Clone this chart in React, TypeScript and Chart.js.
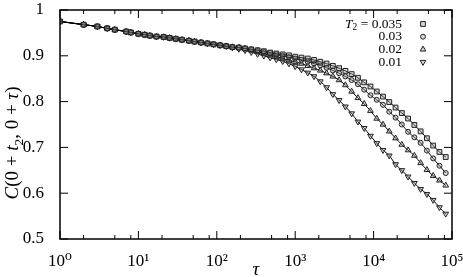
import { useEffect, useRef } from 'react';
import { Chart, registerables } from 'chart.js';

Chart.register(...registerables);

// ---------- data ----------
const tau = [
  1, 2, 3, 4, 5, 7, 8, 10, 12, 14, 17, 21, 25, 30, 36, 44, 52, 63, 76, 91,
  110, 132, 158, 191, 229, 275, 331, 398, 479, 575, 692, 832, 1000, 1202, 1445,
  1738, 2089, 2512, 3020, 3631, 4365, 5248, 6310, 7586, 9120, 10965, 13183,
  15849, 19055, 22909, 27542, 33113, 39811, 47863, 57544, 69183, 83176,
];

const c035 = [
  0.975, 0.968, 0.964, 0.96, 0.957, 0.953, 0.951, 0.948, 0.946, 0.944, 0.942,
  0.941, 0.939, 0.937, 0.935, 0.933, 0.931, 0.929, 0.927, 0.925, 0.923, 0.921,
  0.919, 0.918, 0.916, 0.914, 0.912, 0.91, 0.907, 0.905, 0.903, 0.901, 0.898,
  0.896, 0.894, 0.891, 0.887, 0.883, 0.878, 0.873, 0.867, 0.86, 0.852, 0.842,
  0.833, 0.822, 0.811, 0.799, 0.787, 0.775, 0.763, 0.749, 0.735, 0.72, 0.704,
  0.69, 0.679,
];

const c03 = [
  0.975, 0.968, 0.964, 0.96, 0.957, 0.953, 0.951, 0.948, 0.946, 0.944, 0.942,
  0.941, 0.939, 0.937, 0.935, 0.933, 0.931, 0.929, 0.927, 0.925, 0.923, 0.921,
  0.919, 0.918, 0.916, 0.914, 0.912, 0.909, 0.906, 0.903, 0.9, 0.897, 0.894,
  0.891, 0.887, 0.883, 0.879, 0.874, 0.868, 0.862, 0.855, 0.847, 0.838, 0.826,
  0.814, 0.804, 0.793, 0.778, 0.765, 0.75, 0.734, 0.722, 0.71, 0.693, 0.676,
  0.66, 0.644,
];

const c02 = [
  0.975, 0.968, 0.964, 0.96, 0.957, 0.953, 0.951, 0.948, 0.946, 0.944, 0.942,
  0.941, 0.939, 0.937, 0.935, 0.933, 0.931, 0.929, 0.927, 0.925, 0.923, 0.921,
  0.919, 0.918, 0.915, 0.912, 0.909, 0.905, 0.901, 0.898, 0.894, 0.89, 0.887,
  0.883, 0.878, 0.873, 0.868, 0.862, 0.855, 0.847, 0.836, 0.822, 0.808, 0.795,
  0.78, 0.763, 0.75, 0.735, 0.72, 0.706, 0.694, 0.682, 0.666, 0.651, 0.638,
  0.628, 0.617,
];

const c01 = [
  0.975, 0.968, 0.964, 0.96, 0.957, 0.953, 0.951, 0.948, 0.946, 0.944, 0.942,
  0.941, 0.939, 0.937, 0.935, 0.933, 0.931, 0.929, 0.927, 0.925, 0.923, 0.921,
  0.918, 0.915, 0.912, 0.908, 0.904, 0.9, 0.896, 0.892, 0.888, 0.883, 0.877,
  0.87, 0.863, 0.855, 0.844, 0.831, 0.816, 0.803, 0.789, 0.774, 0.756, 0.742,
  0.725, 0.709, 0.694, 0.682, 0.663, 0.65, 0.636, 0.622, 0.609, 0.598, 0.585,
  0.569, 0.555,
];

const seriesLabels = ['0.035', '0.03', '0.02', '0.01'];
const xMajorTicks = [1, 10, 100, 1000, 10000, 100000];
const xTickLabels = ['10⁰', '10¹', '10²', '10³', '10⁴', '10⁵'];
const xMinorTicks = [
  2, 5, 8, 20, 50, 80, 200, 500, 800, 2000, 5000, 8000, 20000, 50000, 80000,
];
const yTicks = [0.5, 0.6, 0.7, 0.8, 0.9, 1];
const yTickLabels = ['0.5', '0.6', '0.7', '0.8', '0.9', '1'];

// ---------- styles ----------
const FONT = '"Liberation Serif", "DejaVu Serif", serif';
const MARK = '#222';
const MARK_FILL = 'rgba(150,150,150,0.4)';
const markers = [
  { style: 'rect', radius: 3.4, rotation: 0 },
  { style: 'circle', radius: 2.5, rotation: 0 },
  { style: 'triangle', radius: 3.3, rotation: 0 },
  { style: 'triangle', radius: 3.3, rotation: 180 },
];

type Seg = { t: string; it?: boolean; sub?: boolean };

function segFont(s: Seg, size: number) {
  const sz = s.sub ? size * 0.7 : size;
  return `${s.it ? 'italic ' : ''}${sz}px ${FONT}`;
}
function measureRich(ctx: CanvasRenderingContext2D, segs: Seg[], size: number) {
  let w = 0;
  for (const s of segs) {
    ctx.font = segFont(s, size);
    w += ctx.measureText(s.t).width;
  }
  return w;
}
function drawRich(ctx: CanvasRenderingContext2D, segs: Seg[], x: number, y: number, size: number) {
  let cx = x;
  for (const s of segs) {
    ctx.font = segFont(s, size);
    ctx.fillText(s.t, cx, y + (s.sub ? size * 0.25 : 0));
    cx += ctx.measureText(s.t).width;
  }
}

function drawMarker(ctx: CanvasRenderingContext2D, idx: number, x: number, y: number) {
  const m = markers[idx];
  const r = m.radius;
  ctx.beginPath();
  if (m.style === 'rect') {
    const s = Math.SQRT1_2 * r;
    ctx.rect(x - s, y - s, 2 * s, 2 * s);
  } else if (m.style === 'circle') {
    ctx.arc(x, y, r, 0, Math.PI * 2);
  } else {
    const rot = (m.rotation * Math.PI) / 180;
    for (let k = 0; k < 3; k++) {
      const a = rot - Math.PI / 2 + (k * 2 * Math.PI) / 3;
      const px = x + Math.cos(a) * r;
      const py = y + Math.sin(a) * r;
      if (k === 0) ctx.moveTo(px, py);
      else ctx.lineTo(px, py);
    }
    ctx.closePath();
  }
  ctx.fill();
  ctx.stroke();
}

const decorate = {
  id: 'decorate',
  afterDatasetsDraw(chart: any) {
    const { ctx, chartArea: a, scales } = chart;
    const xs = scales.x;
    const ys = scales.y;
    ctx.save();
    ctx.strokeStyle = '#000';
    ctx.lineWidth = 1;
    const seg = (x1: number, y1: number, x2: number, y2: number) => {
      ctx.beginPath();
      ctx.moveTo(x1, y1);
      ctx.lineTo(x2, y2);
      ctx.stroke();
    };
    for (const t of xMajorTicks) {
      const px = xs.getPixelForValue(t);
      seg(px, a.bottom, px, a.bottom - 8);
      seg(px, a.top, px, a.top + 8);
    }
    for (const t of xMinorTicks) {
      const px = xs.getPixelForValue(t);
      seg(px, a.bottom, px, a.bottom - 4);
      seg(px, a.top, px, a.top + 4);
    }
    for (const v of yTicks) {
      const py = ys.getPixelForValue(v);
      seg(a.left, py, a.left + 8, py);
      seg(a.right, py, a.right - 8, py);
    }
    ctx.lineWidth = 1.5;
    ctx.strokeRect(a.left, a.top, a.right - a.left, a.bottom - a.top);

    // legend
    ctx.fillStyle = '#000';
    ctx.textBaseline = 'middle';
    const lsize = 13.5;
    seriesLabels.forEach((lab, i) => {
      const ly = a.top + 14 + i * 12.7;
      const segs: Seg[] = i === 0
        ? [{ t: 'T', it: true }, { t: '2', sub: true }, { t: ' = ' + lab }]
        : [{ t: lab }];
      const w = measureRich(ctx, segs, lsize);
      ctx.fillStyle = '#000';
      drawRich(ctx, segs, a.right - 50 - w, ly, lsize);
      ctx.strokeStyle = MARK;
      ctx.fillStyle = MARK_FILL;
      ctx.lineWidth = 1;
      drawMarker(ctx, i, a.right - 29, ly);
    });

    // x title
    ctx.fillStyle = '#000';
    ctx.textBaseline = 'alphabetic';
    const xt: Seg[] = [{ t: 'τ', it: true }];
    const xw = measureRich(ctx, xt, 19);
    drawRich(ctx, xt, (a.left + a.right) / 2 - xw / 2, 275, 19);

    // y title
    const ysz = 19;
    const yt: Seg[] = [
      { t: 'C', it: true },
      { t: '(0 + ' },
      { t: 't', it: true },
      { t: '2', sub: true },
      { t: ', 0 + ' },
      { t: 'τ', it: true },
      { t: ')' },
    ];
    const yw = measureRich(ctx, yt, ysz);
    ctx.translate(18, 143);
    ctx.rotate(-Math.PI / 2);
    drawRich(ctx, yt, -yw / 2, 0, ysz);
    ctx.restore();
  },
};

export default function App() {
  const ref = useRef<HTMLCanvasElement | null>(null);
  useEffect(() => {
    if (!ref.current) return;
    const series = [c035, c03, c02, c01];
    const chart = new Chart(ref.current, {
      type: 'line',
      data: {
        datasets: series.map((vals, i) => ({
          label: 'T2 = ' + seriesLabels[i],
          data: tau.map((t, k) => ({ x: t, y: vals[k] })),
          borderColor: '#000',
          borderWidth: 1,
          cubicInterpolationMode: 'monotone' as const,
          pointStyle: markers[i].style as any,
          pointRotation: markers[i].rotation,
          pointRadius: markers[i].radius,
          pointBorderColor: MARK,
          pointBackgroundColor: MARK_FILL,
          pointBorderWidth: 1,
        })),
      },
      options: {
        animation: false,
        responsive: true,
        maintainAspectRatio: false,
        layout: { padding: { top: 10, right: 11, left: 0, bottom: 0 } },
        plugins: { legend: { display: false }, tooltip: { enabled: false } },
        scales: {
          x: {
            type: 'logarithmic',
            min: 1,
            max: 100000,
            grid: { display: false },
            border: { display: false },
            afterBuildTicks: (s: any) => {
              s.ticks = xMajorTicks.map((v) => ({ value: v }));
            },
            afterFit: (s: any) => {
              s.height = 38;
              s.paddingLeft = 0;
              s.paddingRight = 0;
            },
            ticks: {
              autoSkip: false,
              maxRotation: 0,
              padding: 4,
              color: '#000',
              font: { family: FONT, size: 17 },
              callback: (_v: any, i: number) => xTickLabels[i],
            },
          },
          y: {
            type: 'linear',
            min: 0.5,
            max: 1,
            grid: { display: false },
            border: { display: false },
            afterBuildTicks: (s: any) => {
              s.ticks = yTicks.map((v) => ({ value: v }));
            },
            afterFit: (s: any) => {
              s.width = 60;
              s.paddingTop = 0;
              s.paddingBottom = 0;
            },
            ticks: {
              padding: 8,
              color: '#000',
              font: { family: FONT, size: 17 },
              callback: (_v: any, i: number) => yTickLabels[i],
            },
          },
        },
      },
      plugins: [decorate],
    });
    return () => chart.destroy();
  }, []);

  return (
    <div style={{ position: 'absolute', left: 0, top: 0, width: 463, height: 277, background: '#fff' }}>
      <canvas ref={ref} />
    </div>
  );
}
